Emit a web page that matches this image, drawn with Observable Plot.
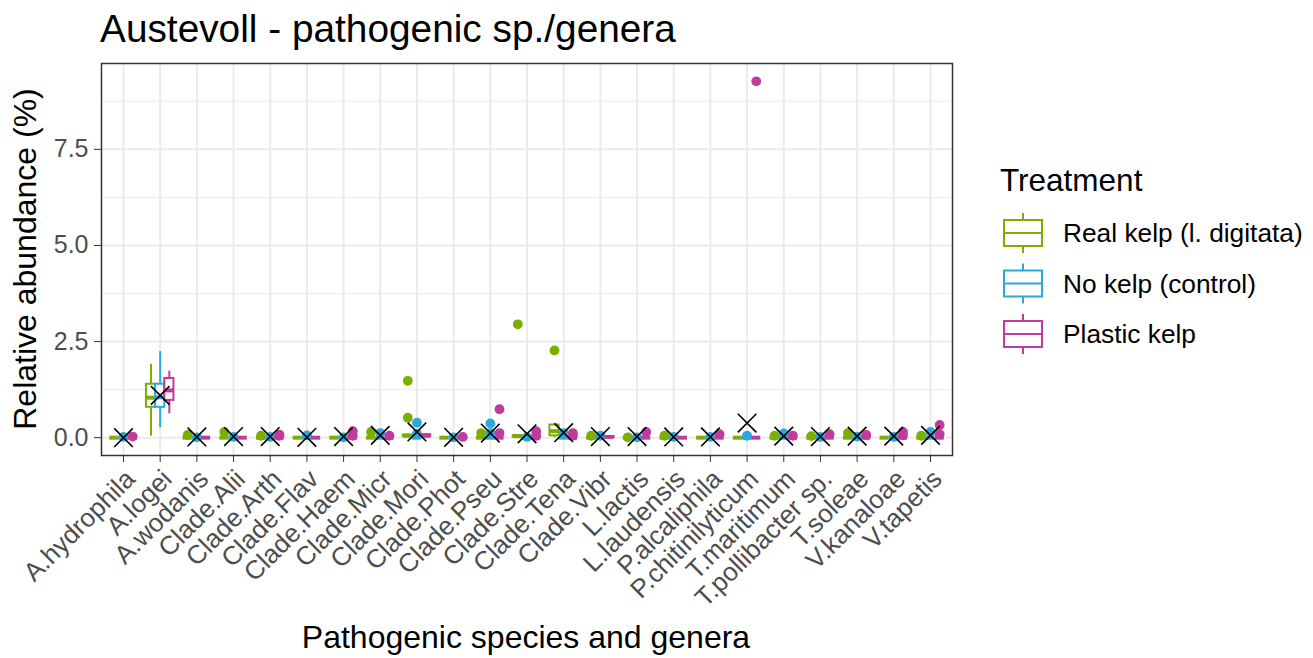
<!DOCTYPE html>
<html>
<head>
<meta charset="utf-8">
<script src="https://cdn.jsdelivr.net/npm/d3@7"></script>
<script src="https://cdn.jsdelivr.net/npm/@observablehq/plot@0.6"></script>
<style>
  html, body { margin: 0; padding: 0; background: #fff; }
  #wrap { position: relative; width: 1313px; height: 658px; font-family: "Liberation Sans", Arial, sans-serif; }
  #wrap > svg { position: absolute; left: 0; top: 0; }
</style>
</head>
<body>
<div id="wrap"></div>
<script>
// ---- data ----
const species = ["A.hydrophila","A.logei","A.wodanis","Clade.Alii","Clade.Arth","Clade.Flav","Clade.Haem","Clade.Micr","Clade.Mori","Clade.Phot","Clade.Pseu","Clade.Stre","Clade.Tena","Clade.Vibr","L.lactis","L.laudensis","P.alcaliphila","P.chitinilyticum","T.maritimum","T.pollibacter sp.","T.soleae","V.kanaloae","V.tapetis"];
const treatments = ["Real kelp (l. digitata)", "No kelp (control)", "Plastic kelp"];
const treatmentColors = ["#7CAE00", "#2AA9DC", "#C13B9D"];
const yTicks = [0, 2.5, 5, 7.5];
const yMinor = [1.25, 3.75, 6.25, 8.75];

// box stats per species: [lower whisker, Q1, median, Q3, upper whisker]
const realBox = [
  [0,0,0,0,0],[0.04,0.79,1.04,1.39,1.91],[0,0,0,0,0],[0,0,0,0,0],[0,0,0,0,0],[0,0,0,0,0],
  [0,0,0,0,0],[0,0,0,0,0],[0.02,0.04,0.05,0.07,0.1],[0,0,0,0,0],[0,0,0,0,0],[0,0.02,0.04,0.05,0.06],
  [0,0.05,0.17,0.33,0.36],[0,0,0,0,0],[0,0,0,0,0],[0,0,0,0,0],[0,0,0,0,0],[0,0,0,0,0],
  [0,0,0,0,0],[0,0,0,0,0],[0,0,0,0,0],[0,0,0,0,0],[0,0,0,0,0]
];
const controlBox = [
  [0,0,0,0,0],[0.26,0.79,1.05,1.39,2.24],[0,0,0,0,0],[0,0,0,0,0],[0,0,0,0,0],[0,0,0,0,0],
  [0,0,0,0,0],[0,0,0,0,0],[0,0,0,0,0],[0,0,0,0,0],[0,0,0,0,0],[0,0,0,0,0],
  [0,0,0,0,0],[0,0,0,0,0],[0,0,0,0,0],[0,0,0,0,0],[0,0,0,0,0],[0,0,0,0,0],
  [0,0,0,0,0],[0,0,0,0,0],[0,0,0,0,0],[0,0,0,0,0],[0,0,0,0,0]
];
const plasticBox = [
  [0,0,0,0,0],[0.62,0.97,1.23,1.54,1.73],[0,0,0,0,0],[0,0,0,0,0],[0,0,0,0,0],[0,0,0,0,0],
  [0,0,0,0,0],[0,0,0,0,0],[0,0.03,0.05,0.08,0.1],[0,0,0,0,0],[0,0,0,0,0],[0,0,0,0,0],
  [0,0,0,0,0],[0,0.01,0.02,0.03,0.04],[0,0,0,0,0],[0,0,0,0,0],[0,0,0,0,0],[0,0,0,0,0],
  [0,0,0,0,0],[0,0,0,0,0],[0,0,0,0,0],[0,0,0,0,0],[0,0,0,0,0]
];
// outlier points per species
const realOut = [[],[],[0.07],[0.15],[0.05],[],[],[0.15],[1.48,0.52],[],[0.12],[2.95],[2.27],[0.05],[0.01],[0.05],[],[],[0.05],[0.04],[0.12],[],[0.05]];
const controlOut = [[0.02],[],[0.01],[0.02],[0.02],[0.06],[0.01],[0.12],[0.39,0.1],[0.01],[0.37,0.12],[0.02],[0.12],[0.05],[0.01],[0.02],[0.02],[0.05],[0.11],[0.02],[0.03],[0.02],[0.15]];
const plasticOut = [[0.03],[],[],[],[0.05,0.08],[],[0.17,0.05],[0.05],[],[0.02],[0.74,0.12],[0.17,0.05],[0.05,0.12],[],[0.15],[],[0.09],[9.27],[0.05],[0.09],[0.07],[0.15,0.06],[0.33,0.09]];
// overall mean per species (black cross)
const meanVals = [0,1.1,0.02,0.03,0.03,0.01,0.03,0.06,0.15,0.01,0.12,0.1,0.13,0.03,0.03,0.02,0.02,0.38,0.04,0.03,0.04,0.04,0.06];

// ---- build tables ----
const boxStats = [realBox, controlBox, plasticBox];
const outStats = [realOut, controlOut, plasticOut];
const dodge = 0.25, boxW = 0.25;
const boxes = treatments.flatMap((t, k) => species.map((s, i) => {
  const b = boxStats[k][i];
  return {species: s, t, k, x: i + (k - 1) * dodge, lo: b[0], q1: b[1], med: b[2], q3: b[3], hi: b[4]};
}));
const outliers = treatments.flatMap((t, k) => species.flatMap((s, i) =>
  outStats[k][i].map(v => ({species: s, t, k, x: i + (k - 1) * dodge, y: v}))));
const means = species.map((s, i) => ({species: s, i, v: meanVals[i]}));

const layers = [];
treatments.forEach((t, k) => {
  const bk = boxes.filter(d => d.k === k);
  const ok = outliers.filter(d => d.k === k);
  layers.push(
    Plot.dot(ok, {x: "x", y: "y", fill: "t", r: 4.9}),
    Plot.ruleX(bk, {x: "x", y1: "lo", y2: "hi", stroke: "t", strokeWidth: 2}),
    Plot.rect(bk, {x1: d => d.x - boxW / 2, x2: d => d.x + boxW / 2, y1: "q1", y2: "q3", fill: "white", stroke: "t", strokeWidth: 2}),
    Plot.ruleY(bk, {y: "med", x1: d => d.x - boxW / 2, x2: d => d.x + boxW / 2, stroke: "t", strokeWidth: 4})
  );
});

const chart = Plot.plot({
  width: 1313,
  height: 658,
  marginLeft: 101,
  marginRight: 361,
  marginTop: 63,
  marginBottom: 203,
  style: {fontFamily: "'Liberation Sans', Arial, sans-serif", background: "transparent", overflow: "visible"},
  x: {domain: [-0.6, species.length - 1 + 0.6]},
  y: {domain: [-0.4635, 9.7335]},
  color: {domain: treatments, range: treatmentColors},
  marks: [
    Plot.gridY(yMinor, {stroke: "#ebebeb", strokeOpacity: 1, strokeWidth: 1}),
    Plot.gridY(yTicks, {stroke: "#ebebeb", strokeOpacity: 1, strokeWidth: 2}),
    Plot.gridX(d3.range(species.length), {stroke: "#ebebeb", strokeOpacity: 1, strokeWidth: 2}),
    ...layers,
    Plot.dot(means, {x: "i", y: "v", symbol: "times", r: 8.5, stroke: "black", strokeWidth: 1.6}),
    Plot.frame({stroke: "#333", strokeWidth: 1.5}),
    Plot.axisY(yTicks, {tickFormat: d3.format(".1f"), tickSize: 7, tickPadding: 6, stroke: "#333", fill: "#4d4d4d", fontSize: 25, label: null}),
    Plot.axisX(d3.range(species.length), {tickFormat: i => species[i], tickSize: 7, tickPadding: 5, tickRotate: -45, lineAnchor: "top", textAnchor: "end", stroke: "#333", fill: "#4d4d4d", fontSize: 26, label: null})
  ]
});

const wrap = document.getElementById("wrap");
wrap.appendChild(chart);

// ---- titles and legend overlay ----
const ns = "http://www.w3.org/2000/svg";
const over = document.createElementNS(ns, "svg");
over.setAttribute("width", 1313);
over.setAttribute("height", 658);
over.style.fontFamily = "'Liberation Sans', Arial, sans-serif";
function txt(str, x, y, size, opts = {}) {
  const t = document.createElementNS(ns, "text");
  t.setAttribute("x", x); t.setAttribute("y", y);
  t.setAttribute("font-size", size);
  t.setAttribute("fill", opts.fill || "#000");
  if (opts.anchor) t.setAttribute("text-anchor", opts.anchor);
  if (opts.transform) t.setAttribute("transform", opts.transform);
  t.textContent = str;
  over.appendChild(t);
}
txt("Austevoll - pathogenic sp./genera", 100, 42, 38.8);
txt("Pathogenic species and genera", 526, 648, 32, {anchor: "middle"});
txt("Relative abundance (%)", 0, 0, 32, {anchor: "middle", transform: "translate(36,259) rotate(-90)"});
txt("Treatment", 1000, 191, 31.5);
treatments.forEach((t, k) => {
  const cy = 233 + k * 50.5;
  const g = document.createElementNS(ns, "g");
  g.setAttribute("stroke", treatmentColors[k]);
  g.setAttribute("stroke-width", 2);
  g.setAttribute("fill", "white");
  g.innerHTML = `<line x1="1023" x2="1023" y1="${cy - 20}" y2="${cy + 20}"/>` +
    `<rect x="1004" y="${cy - 13}" width="38" height="26"/>` +
    `<line x1="1004" x2="1042" y1="${cy}" y2="${cy}"/>`;
  over.appendChild(g);
  txt(t, 1063, cy + 9, 26.3);
});
wrap.appendChild(over);
</script>
</body>
</html>
